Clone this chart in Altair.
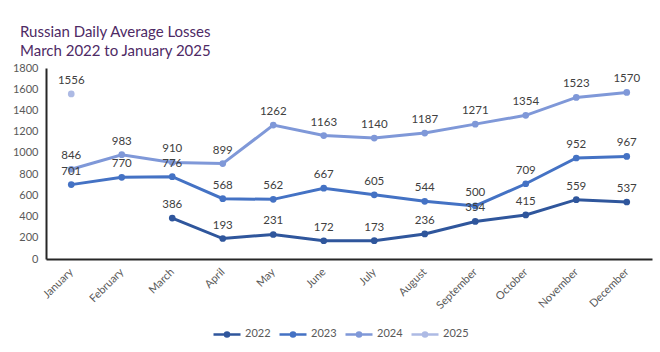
import altair as alt
import pandas as pd

months = ["January", "February", "March", "April", "May", "June", "July",
          "August", "September", "October", "November", "December"]
years = ["2022", "2023", "2024", "2025"]
v2022 = [None, None, 386, 193, 231, 172, 173, 236, 354, 415, 559, 537]
v2023 = [701, 770, 776, 568, 562, 667, 605, 544, 500, 709, 952, 967]
v2024 = [846, 983, 910, 899, 1262, 1163, 1140, 1187, 1271, 1354, 1523, 1570]
v2025 = [1556, None, None, None, None, None, None, None, None, None, None, None]
y_ticks = [0, 200, 400, 600, 800, 1000, 1200, 1400, 1600, 1800]
colors = ["#2f569c", "#4472c4", "#7f98d8", "#adbae4"]

rows = []
for yr, vals in zip(years, [v2022, v2023, v2024, v2025]):
    for m, v in zip(months, vals):
        if v is not None:
            rows.append({"month": m, "year": yr, "value": v})
df = pd.DataFrame(rows)

FONT = "Lato"
legend_path = "M-1,0H1M-0.15,0A0.15,0.15,0,1,1,0.15,0A0.15,0.15,0,1,1,-0.15,0"

x = alt.X("month:N", sort=months, scale=alt.Scale(domain=months, paddingInner=1, paddingOuter=0.5),
          axis=alt.Axis(title=None, labelAngle=-45, labelAlign="right", labelBaseline="middle",
                        labelPadding=11, ticks=False, domainColor="#262626", domainWidth=2,
                        labelColor="#595959", labelFontSize=11, labelFont=FONT))
y = alt.Y("value:Q", scale=alt.Scale(domain=[0, 1800]),
          axis=alt.Axis(title=None, values=y_ticks, format="d", labelOverlap=False,
                        tickCount=10, grid=False, ticks=False,
                        domainColor="#262626", domainWidth=2, labelPadding=8,
                        labelColor="#595959", labelFontSize=11, labelFont=FONT))
color = alt.Color("year:N", scale=alt.Scale(domain=years, range=colors),
                  legend=alt.Legend(title=None, orient="none", direction="horizontal",
                                    legendX=166, legendY=251, symbolType=legend_path,
                                    symbolSize=729, symbolStrokeWidth=2.5, labelOffset=3,
                                    columnPadding=3, labelFontSize=11, labelColor="#595959",
                                    labelFont=FONT, padding=0))

lines = alt.Chart(df).mark_line(strokeWidth=3, point=alt.OverlayMarkDef(filled=True, size=45, opacity=1)).encode(
    x=x, y=y, color=color, order=alt.Order("year:N"))
labels = alt.Chart(df).mark_text(dy=-13, fontSize=11.5, color="#404040", font=FONT).encode(
    x=x, y=y, text=alt.Text("value:Q", format="d"))

chart = alt.layer(lines, labels).properties(
    width=606, height=191,
    background="white",
    title=alt.TitleParams(["Russian Daily Average Losses", "March 2022 to January 2025"],
                          anchor="start", frame="group", font=FONT, fontSize=15, fontWeight="normal",
                          color="#4e2a65", lineHeight=19, dx=-26, offset=3),
    autosize=alt.AutoSizeParams(type="none"),
    padding={"left": 46, "top": 68, "right": 8, "bottom": 93},
).configure_view(stroke=None).configure_axis(labelOverlap=False)

chart.save("out.html", embed_options={"renderer": "svg", "actions": False})
